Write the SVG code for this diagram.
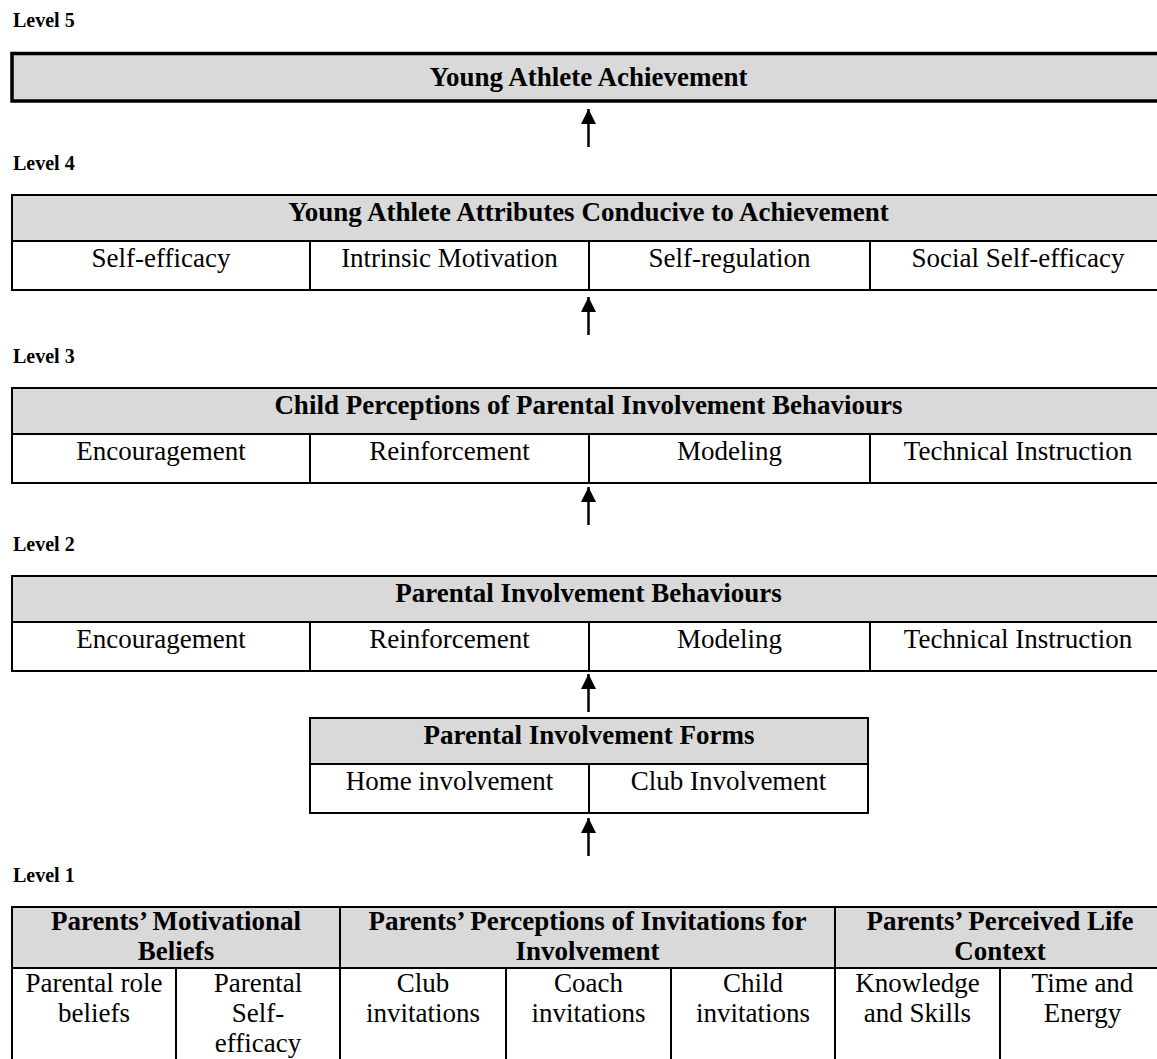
<svg xmlns="http://www.w3.org/2000/svg" width="1157" height="1059" viewBox="0 0 1157 1059">
<style>
.lbl{font-family:"Liberation Serif","Times New Roman",serif;font-weight:bold;font-size:20px;fill:#000}
.hd{font-family:"Liberation Serif","Times New Roman",serif;font-weight:bold;font-size:27px;fill:#000;text-anchor:middle}
.tx{font-family:"Liberation Serif","Times New Roman",serif;font-size:27px;fill:#000;text-anchor:middle}
.fill{fill:#d9d9d9;stroke:none}
.ln{stroke:#000;stroke-width:2;fill:none}
.conn{stroke:#000;stroke-width:2.5;fill:none;marker-end:url(#ah)}
</style>
<defs>
<marker id="ah" markerWidth="15" markerHeight="15" refX="15" refY="7.5" orient="auto" markerUnits="userSpaceOnUse">
<path d="M0,0 L15,7.5 L0,15 z" fill="#000"/>
</marker>
</defs>
<rect width="1157" height="1059" fill="#fff"/>

<g id="level-labels">
<text class="lbl" x="13" y="27">Level 5</text>
<text class="lbl" x="13" y="170">Level 4</text>
<text class="lbl" x="13" y="363">Level 3</text>
<text class="lbl" x="13" y="551">Level 2</text>
<text class="lbl" x="13" y="882">Level 1</text>
</g>

<g id="level5">
<rect x="12" y="53.5" width="1160" height="47.5" fill="#d9d9d9" stroke="#000" stroke-width="3.5"/>
<text class="hd" x="588.5" y="86">Young Athlete Achievement</text>
</g>

<g id="level4">
<rect class="fill" x="12" y="195" width="1154" height="46"/>
<rect class="ln" x="12" y="195" width="1154" height="95"/>
<line class="ln" x1="12" y1="241" x2="1166" y2="241"/>
<line class="ln" x1="310" y1="241" x2="310" y2="290"/>
<line class="ln" x1="589" y1="241" x2="589" y2="290"/>
<line class="ln" x1="870" y1="241" x2="870" y2="290"/>
<text class="hd" x="588.5" y="221">Young Athlete Attributes Conducive to Achievement</text>
<text class="tx" x="161" y="267">Self-efficacy</text>
<text class="tx" x="449.5" y="267">Intrinsic Motivation</text>
<text class="tx" x="729.5" y="267">Self-regulation</text>
<text class="tx" x="1018" y="267">Social Self-efficacy</text>
</g>

<g id="level3">
<rect class="fill" x="12" y="388" width="1154" height="46"/>
<rect class="ln" x="12" y="388" width="1154" height="95"/>
<line class="ln" x1="12" y1="434" x2="1166" y2="434"/>
<line class="ln" x1="310" y1="434" x2="310" y2="483"/>
<line class="ln" x1="589" y1="434" x2="589" y2="483"/>
<line class="ln" x1="870" y1="434" x2="870" y2="483"/>
<text class="hd" x="588.5" y="414">Child Perceptions of Parental Involvement Behaviours</text>
<text class="tx" x="161" y="460">Encouragement</text>
<text class="tx" x="449.5" y="460">Reinforcement</text>
<text class="tx" x="729.5" y="460">Modeling</text>
<text class="tx" x="1018" y="460">Technical Instruction</text>
</g>

<g id="level2">
<rect class="fill" x="12" y="576" width="1154" height="46"/>
<rect class="ln" x="12" y="576" width="1154" height="95"/>
<line class="ln" x1="12" y1="622" x2="1166" y2="622"/>
<line class="ln" x1="310" y1="622" x2="310" y2="671"/>
<line class="ln" x1="589" y1="622" x2="589" y2="671"/>
<line class="ln" x1="870" y1="622" x2="870" y2="671"/>
<text class="hd" x="588.5" y="602">Parental Involvement Behaviours</text>
<text class="tx" x="161" y="648">Encouragement</text>
<text class="tx" x="449.5" y="648">Reinforcement</text>
<text class="tx" x="729.5" y="648">Modeling</text>
<text class="tx" x="1018" y="648">Technical Instruction</text>
</g>

<g id="forms">
<rect class="fill" x="310" y="718" width="558" height="46"/>
<rect class="ln" x="310" y="718" width="558" height="95"/>
<line class="ln" x1="310" y1="764" x2="868" y2="764"/>
<line class="ln" x1="589" y1="764" x2="589" y2="813"/>
<text class="hd" x="589" y="744">Parental Involvement Forms</text>
<text class="tx" x="449.5" y="790">Home involvement</text>
<text class="tx" x="728.5" y="790">Club Involvement</text>
</g>

<g id="level1">
<rect class="fill" x="12" y="907" width="1154" height="61"/>
<rect class="ln" x="12" y="907" width="1154" height="170"/>
<line class="ln" x1="12" y1="968" x2="1166" y2="968"/>
<line class="ln" x1="340" y1="907" x2="340" y2="1077"/>
<line class="ln" x1="835" y1="907" x2="835" y2="1077"/>
<line class="ln" x1="176" y1="968" x2="176" y2="1077"/>
<line class="ln" x1="506" y1="968" x2="506" y2="1077"/>
<line class="ln" x1="671" y1="968" x2="671" y2="1077"/>
<line class="ln" x1="1000" y1="968" x2="1000" y2="1077"/>
<text class="hd" x="176" y="930">Parents’ Motivational</text>
<text class="hd" x="176" y="960">Beliefs</text>
<text class="hd" x="587.5" y="930">Parents’ Perceptions of Invitations for</text>
<text class="hd" x="587.5" y="960">Involvement</text>
<text class="hd" x="1000" y="930">Parents’ Perceived Life</text>
<text class="hd" x="1000" y="960">Context</text>
<text class="tx" x="94" y="992">Parental role</text>
<text class="tx" x="94" y="1022">beliefs</text>
<text class="tx" x="258" y="992">Parental</text>
<text class="tx" x="258" y="1022">Self-</text>
<text class="tx" x="258" y="1052">efficacy</text>
<text class="tx" x="423" y="992">Club</text>
<text class="tx" x="423" y="1022">invitations</text>
<text class="tx" x="588.5" y="992">Coach</text>
<text class="tx" x="588.5" y="1022">invitations</text>
<text class="tx" x="753" y="992">Child</text>
<text class="tx" x="753" y="1022">invitations</text>
<text class="tx" x="917.5" y="992">Knowledge</text>
<text class="tx" x="917.5" y="1022">and Skills</text>
<text class="tx" x="1082.5" y="992">Time and</text>
<text class="tx" x="1082.5" y="1022">Energy</text>
</g>

<g id="connectors">
<line class="conn" x1="588.5" y1="147" x2="588.5" y2="109"/>
<line class="conn" x1="588.5" y1="335" x2="588.5" y2="297"/>
<line class="conn" x1="588.5" y1="525" x2="588.5" y2="487"/>
<line class="conn" x1="588.5" y1="712" x2="588.5" y2="674"/>
<line class="conn" x1="588.5" y1="856" x2="588.5" y2="818"/>
</g>
</svg>
